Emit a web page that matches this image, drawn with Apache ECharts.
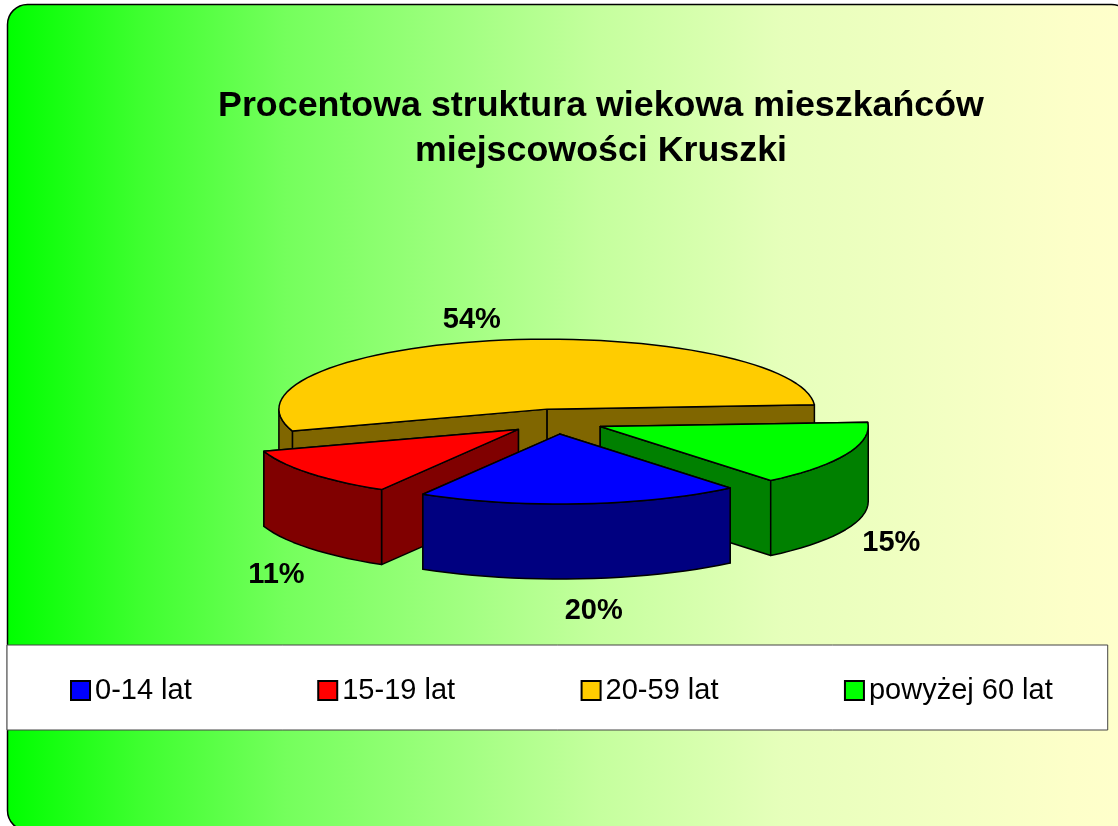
<!DOCTYPE html>
<html>
<head>
<meta charset="utf-8">
<title>Procentowa struktura wiekowa</title>
<script src="https://cdn.jsdelivr.net/npm/echarts@6/dist/echarts.min.js"></script>
<style>
  html, body { margin: 0; padding: 0; background: #fff; }
  #chart { width: 1118px; height: 826px; }
</style>
</head>
<body>
<div id="chart"></div>
<script>
const categories = ['0-14 lat', '15-19 lat', '20-59 lat', 'powyżej 60 lat']
const shares = [19.5, 11.4, 54.1, 15]
const topColors = ['#0000ff', '#ff0000', '#ffcc00', '#00ff00']
const sideColors = ['#000080', '#800000', '#806600', '#008000']

// pseudo 3D pie, echarts has no such series so it is drawn with custom series
const cx = 556
const cy = 421.5
const rx = 268
const ry = 70
const depth = 75
const explode = 0.18
const firstAngle = 50.5 // degrees clockwise from east
const font = '"Liberation Sans", Arial, sans-serif'
// small per slice corrections for the percent labels
const labelNudge = [[10, -3], [2, 5], [-16, 14], [4, 0]]

const total = shares.reduce((a, b) => a + b, 0)
const rad = d => d * Math.PI / 180

const rimPoints = (ox, oy, from, to, dy) => {
  const pts = []
  const steps = Math.max(2, Math.ceil((to - from) / 3))
  for (let i = 0; i <= steps; i++) {
    const t = rad(from + (to - from) * i / steps)
    pts.push([ox + rx * Math.cos(t), oy + ry * Math.sin(t) + dy])
  }
  return pts
}

const makeRender = idx => (params, api) => {
  const value = api.value(0)
  const before = shares.slice(0, idx).reduce((a, b) => a + b, 0)
  const from = firstAngle + before / total * 360
  const to = from + value / total * 360
  const mid = rad((from + to) / 2)
  const ox = cx + explode * rx * Math.cos(mid)
  const oy = cy + explode * ry * Math.sin(mid)

  const line = { stroke: '#000', lineWidth: 1.5, lineJoin: 'round' }
  const side = Object.assign({ fill: sideColors[idx] }, line)
  const top = Object.assign({ fill: topColors[idx] }, line)
  const children = []

  const rim = rimPoints(ox, oy, from, to, 0)
  const wall = p => [[ox, oy], p, [p[0], p[1] + depth], [ox, oy + depth]]
  // the wall further back goes first
  const ends = [rim[0], rim[rim.length - 1]].sort((a, b) => a[1] - b[1])
  ends.forEach(p => {
    children.push({ type: 'polygon', shape: { points: wall(p) }, style: side })
  })

  // outer wall, only the front half of the ellipse can be seen
  for (const shift of [0, 360]) {
    const a = Math.max(from, shift)
    const b = Math.min(to, shift + 180)
    if (b > a) {
      const upper = rimPoints(ox, oy, a, b, 0)
      const lower = rimPoints(ox, oy, a, b, depth).reverse()
      children.push({ type: 'polygon', shape: { points: upper.concat(lower) }, style: side })
    }
  }

  children.push({ type: 'polygon', shape: { points: [[ox, oy]].concat(rim) }, style: top })

  const sin = Math.sin(mid)
  children.push({
    type: 'text',
    style: {
      text: Math.round(value) + '%',
      x: ox + (rx + 45) * Math.cos(mid) + labelNudge[idx][0],
      y: oy + (ry + 35) * sin + (sin > 0 ? depth : 0) + labelNudge[idx][1],
      fill: '#000',
      font: 'bold 29px ' + font,
      textAlign: 'center',
      textVerticalAlign: 'middle'
    }
  })
  return { type: 'group', children }
}

const chart = echarts.init(document.getElementById('chart'))

// back to front
const drawOrder = [2, 3, 1, 0]

chart.setOption({
  animation: false,
  title: {
    text: 'Procentowa struktura wiekowa mieszkańców\nmiejscowości Kruszki',
    left: 596,
    top: 79,
    textAlign: 'center',
    textStyle: { fontFamily: font, fontSize: 35.8, fontWeight: 'bold', color: '#000', lineHeight: 45 }
  },
  legend: {
    data: categories,
    left: 7,
    top: 645,
    padding: [31, 55, 25, 63],
    itemGap: 125.5,
    itemWidth: 19,
    itemHeight: 19,
    icon: 'rect',
    backgroundColor: '#fff',
    borderColor: '#444',
    borderWidth: 1,
    selectedMode: false,
    textStyle: { fontFamily: font, fontSize: 29, color: '#000' }
  },
  graphic: [{
    type: 'rect',
    z: -10,
    silent: true,
    shape: { x: 7.5, y: 4.5, width: 1124, height: 826, r: 20 },
    style: {
      fill: new echarts.graphic.LinearGradient(0, 0, 1, 0, [
        { offset: 0, color: '#00ff00' },
        { offset: 0.12, color: '#3fff30' },
        { offset: 0.247, color: '#74ff5c' },
        { offset: 0.527, color: '#c5ff9e' },
        { offset: 0.69, color: '#e6ffbb' },
        { offset: 0.945, color: '#fdffc9' },
        { offset: 1, color: '#ffffcc' }
      ]),
      stroke: '#000',
      lineWidth: 1.5
    }
  }],
  series: drawOrder.map(i => ({
    type: 'custom',
    name: categories[i],
    coordinateSystem: 'none',
    silent: true,
    itemStyle: { color: topColors[i], borderColor: '#000', borderWidth: 1 },
    renderItem: makeRender(i),
    data: [[shares[i]]]
  }))
})
</script>
</body>
</html>
